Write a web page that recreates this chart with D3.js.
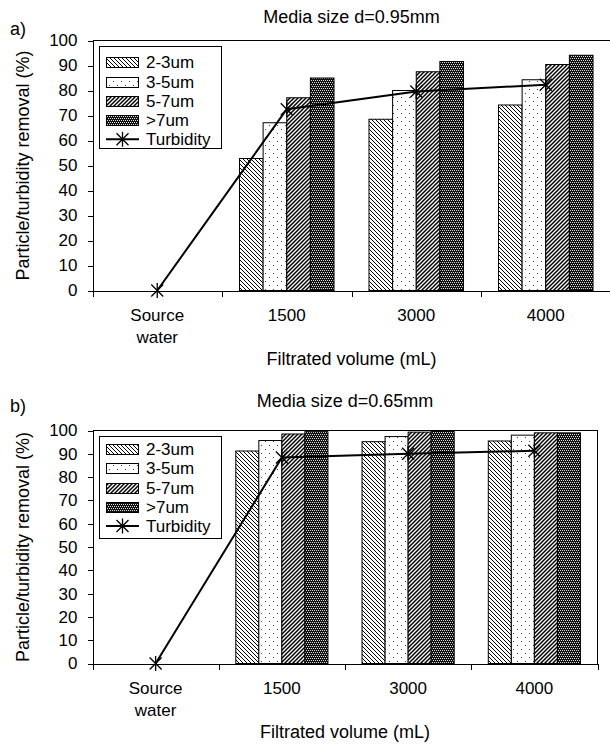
<!DOCTYPE html>
<html><head><meta charset="utf-8">
<script src="https://cdn.jsdelivr.net/npm/d3@7"></script>
<style>
html,body{margin:0;padding:0;background:#fff;}
svg{display:block;font-family:"Liberation Sans",Arial,Helvetica,sans-serif;}
</style></head><body>
<svg id="chart" width="610" height="746"></svg>
<script>
// ---------- data ----------
const categories = ["Source water", "1500", "3000", "4000"];
const categoryLines = [["Source", "water"], ["1500"], ["3000"], ["4000"]];
const seriesNames = ["2-3um", "3-5um", "5-7um", ">7um"];
const lineName = "Turbidity";
const yTicks = [0, 10, 20, 30, 40, 50, 60, 70, 80, 90, 100];

// a) Media size d=0.95mm
const a_2_3 = [null, 52.8, 68.5, 74.2];
const a_3_5 = [null, 67.1, 80.0, 84.3];
const a_5_7 = [null, 77.1, 87.5, 90.4];
const a_gt7 = [null, 85.0, 91.6, 94.1];
const a_turb = [0, 72.5, 79.6, 82.3];

// b) Media size d=0.65mm
const b_2_3 = [null, 91.2, 95.2, 95.5];
const b_3_5 = [null, 95.7, 97.4, 98.0];
const b_5_7 = [null, 98.5, 99.3, 99.0];
const b_gt7 = [null, 99.5, 99.6, 99.0];
const b_turb = [0, 88.4, 90.0, 91.3];

const xTitle = "Filtrated volume (mL)";
const yTitle = "Particle/turbidity removal (%)";

// ---------- drawing ----------
const svg = d3.select("#chart");
const FONT = '"Liberation Sans",Arial,Helvetica,sans-serif';
const defs = svg.append("defs");

function pat(id, w, h) {
  return defs.append("pattern").attr("id", id).attr("patternUnits", "userSpaceOnUse")
    .attr("width", w).attr("height", h);
}
// 2-3um : back diagonal lines
let p0 = pat("p0", 4, 4);
p0.append("rect").attr("width", 4).attr("height", 4).attr("fill", "#fff");
p0.append("path").attr("d", "M-1,-1L5,5M-1,3L1,5M3,-1L5,1").attr("stroke", "#000").attr("stroke-width", 1.0);
// 3-5um : sparse dots
let p1 = pat("p1", 8, 8);
p1.append("rect").attr("width", 8).attr("height", 8).attr("fill", "#fff");
p1.append("rect").attr("x", 1).attr("y", 1).attr("width", 1).attr("height", 1).attr("fill", "#444");
p1.append("rect").attr("x", 5).attr("y", 5).attr("width", 1).attr("height", 1).attr("fill", "#444");
// 5-7um : forward diagonal, dense
let p2 = pat("p2", 4, 4);
p2.append("rect").attr("width", 4).attr("height", 4).attr("fill", "#fff");
p2.append("path").attr("d", "M-1,5L5,-1M-1,1L1,-1M3,5L5,3").attr("stroke", "#000").attr("stroke-width", 1.5);
// >7um : dark checker
let p3 = pat("p3", 4, 4);
p3.append("rect").attr("width", 4).attr("height", 4).attr("fill", "#111");
[[1, 0], [3, 0], [0, 2], [2, 2]].forEach(([x, y]) =>
  p3.append("rect").attr("x", x).attr("y", y).attr("width", 1).attr("height", 1).attr("fill", "#ddd"));

const starPath = "M-6,-6L6,6M-6,6L6,-6M0,-7.5L0,7.5";

function drawPanel(cfg) {
  const g = svg.append("g");
  const x0 = d3.scaleBand().domain(categories).range([cfg.left, cfg.right])
    .paddingInner(0.27).paddingOuter(0.135);
  const x1 = d3.scaleBand().domain(seriesNames).range([0, x0.bandwidth()]);
  const y = d3.scaleLinear().domain([0, 100]).range([cfg.bottom, cfg.top]);
  const edge = d3.scaleLinear().domain([0, categories.length]).range([cfg.left, cfg.right]);

  // bars
  seriesNames.forEach((s, i) => {
    const vals = cfg.series[i];
    g.append("g").selectAll("rect")
      .data(categories.map((c, j) => ({ c, v: vals[j] })).filter(d => d.v != null))
      .join("rect")
      .attr("x", d => x0(d.c) + x1(s))
      .attr("y", d => y(d.v))
      .attr("width", x1.bandwidth())
      .attr("height", d => y(0) - y(d.v))
      .attr("fill", `url(#p${i})`)
      .attr("stroke", "#000").attr("stroke-width", 1);
  });

  // frame top / right
  g.append("line").attr("x1", cfg.left).attr("x2", cfg.right).attr("y1", y(100)).attr("y2", y(100))
    .attr("stroke", "#000").attr("shape-rendering", "crispEdges");
  g.append("line").attr("x1", cfg.right).attr("x2", cfg.right).attr("y1", y(100)).attr("y2", y(0))
    .attr("stroke", "#000").attr("shape-rendering", "crispEdges");

  // y axis
  const ya = g.append("g").attr("transform", `translate(${cfg.left},0)`)
    .call(d3.axisLeft(y).tickValues(yTicks).tickSize(5).tickSizeOuter(0).tickPadding(10));
  ya.attr("font-size", 17).attr("font-family", FONT);
  ya.selectAll("path,line").attr("stroke", "#000").attr("shape-rendering", "crispEdges");
  ya.selectAll("text").attr("fill", "#000");

  // x axis with boundary ticks
  const xa = g.append("g").attr("transform", `translate(0,${y(0)})`)
    .call(d3.axisBottom(edge).tickValues(d3.range(0, categories.length + 1)).tickSize(6).tickSizeOuter(0).tickFormat(""));
  xa.selectAll("path,line").attr("stroke", "#000").attr("shape-rendering", "crispEdges");

  // category labels
  const lab = g.append("g").attr("font-size", 17).attr("font-family", FONT).attr("text-anchor", "middle");
  categories.forEach((c, j) => {
    const t = lab.append("text").attr("x", x0(c) + x0.bandwidth() / 2).attr("y", y(0) + 30);
    categoryLines[j].forEach((ln, k) => t.append("tspan").attr("x", x0(c) + x0.bandwidth() / 2).attr("dy", k ? 22 : 0).text(ln));
  });

  // axis titles
  g.append("text").attr("x", (cfg.left + cfg.right) / 2).attr("y", y(0) + 74)
    .attr("text-anchor", "middle").attr("font-size", 18).attr("font-family", FONT).text(xTitle);
  g.append("text").attr("transform", `translate(29,${(y(0) + y(100)) / 2}) rotate(-90)`)
    .attr("text-anchor", "middle").attr("font-size", 18).attr("font-family", FONT).text(yTitle);

  // title + panel letter
  g.append("text").attr("x", (cfg.left + cfg.right) / 2).attr("y", cfg.titleY)
    .attr("text-anchor", "middle").attr("font-size", 18).attr("font-family", FONT).text(cfg.title);
  g.append("text").attr("x", 10).attr("y", cfg.letterY)
    .attr("font-size", 18).attr("font-family", FONT).text(cfg.letter);

  // turbidity line
  const cx = c => x0(c) + x0.bandwidth() / 2;
  const ld = categories.map((c, j) => ({ c, v: cfg.turb[j] }));
  g.append("path").datum(ld)
    .attr("d", d3.line().x(d => cx(d.c)).y(d => y(d.v)))
    .attr("fill", "none").attr("stroke", "#000").attr("stroke-width", 2);
  g.append("g").selectAll("path").data(ld).join("path")
    .attr("transform", d => `translate(${cx(d.c)},${y(d.v)})`)
    .attr("d", starPath).attr("stroke", "#000").attr("stroke-width", 1.3).attr("fill", "none");

  // legend
  const lg = g.append("g");
  lg.append("rect").attr("x", 99.5).attr("y", cfg.legTop).attr("width", 122).attr("height", 102)
    .attr("fill", "#fff").attr("stroke", "#000").attr("shape-rendering", "crispEdges");
  const rows = seriesNames.concat([lineName]);
  rows.forEach((name, i) => {
    const cy = cfg.legRow0 + i * 19.25;
    if (i < seriesNames.length) {
      lg.append("rect").attr("x", 106.5).attr("y", Math.round(cy - 5) + 0.5).attr("width", 32).attr("height", 10)
        .attr("fill", `url(#p${i})`).attr("stroke", "#000");
    } else {
      lg.append("line").attr("x1", 106).attr("x2", 139).attr("y1", cy).attr("y2", cy)
        .attr("stroke", "#000").attr("stroke-width", 2);
      lg.append("path").attr("transform", `translate(122.5,${cy})`).attr("d", starPath)
        .attr("stroke", "#000").attr("stroke-width", 1.3).attr("fill", "none");
    }
    lg.append("text").attr("x", 146).attr("y", cy).attr("dy", "0.36em")
      .attr("font-size", 17).attr("font-family", FONT).text(name);
  });
}

drawPanel({
  left: 92.5, right: 610.5, top: 40.5, bottom: 290.5,
  series: [a_2_3, a_3_5, a_5_7, a_gt7], turb: a_turb,
  title: "Media size d=0.95mm", titleY: 23, letter: "a)", letterY: 35,
  legTop: 46.5, legRow0: 62.3
});
drawPanel({
  left: 92.5, right: 597.5, top: 430.5, bottom: 663.5,
  series: [b_2_3, b_3_5, b_5_7, b_gt7], turb: b_turb,
  title: "Media size d=0.65mm", titleY: 407, letter: "b)", letterY: 412,
  legTop: 436.5, legRow0: 449
});
</script>
</body></html>
